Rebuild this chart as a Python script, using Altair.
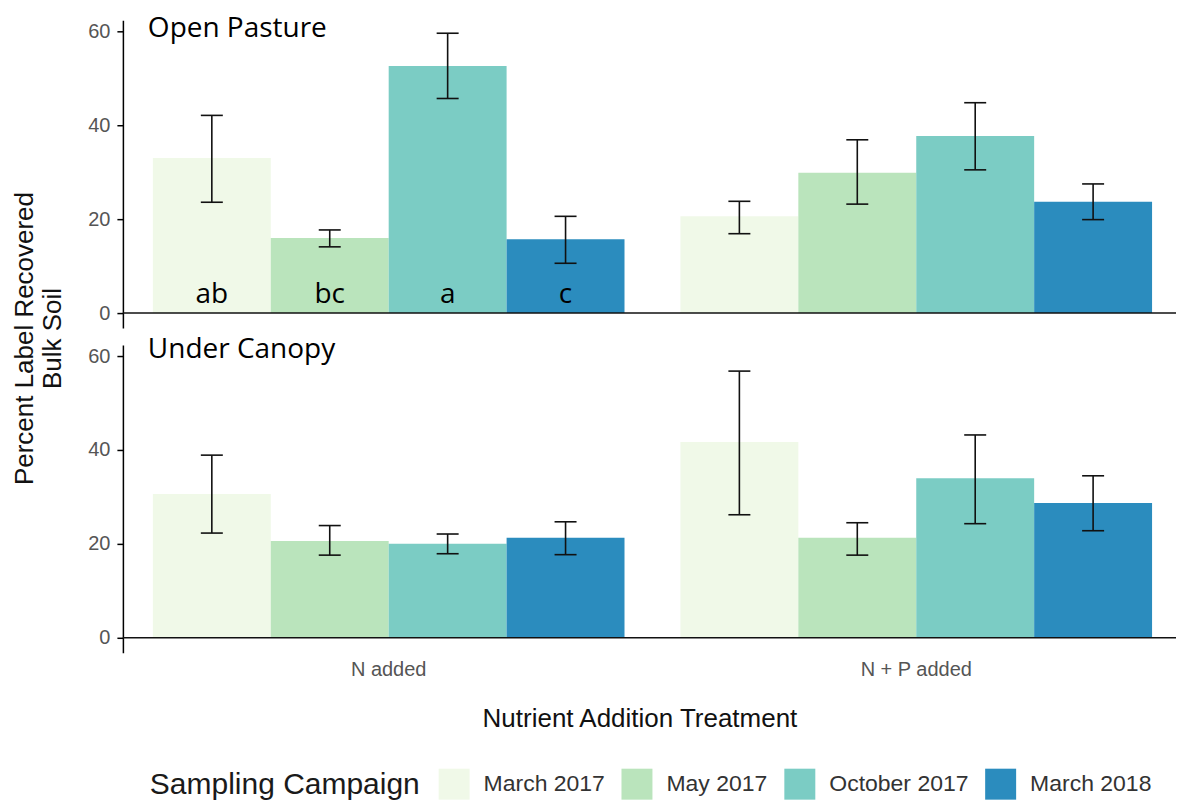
import altair as alt
import pandas as pd

treatments = ["N added", "N + P added"]
campaigns = ["March 2017", "May 2017", "October 2017", "March 2018"]
colors = ["#f0f9e8", "#bae4bc", "#7bccc4", "#2b8cbe"]

# Open Pasture
op_mean_n = [33.0, 16.0, 52.6, 15.7]
op_lo_n = [23.6, 14.1, 45.7, 10.6]
op_hi_n = [42.1, 17.7, 59.6, 20.6]
op_mean_np = [20.6, 29.9, 37.7, 23.7]
op_lo_np = [16.9, 23.2, 30.5, 19.9]
op_hi_np = [23.8, 36.9, 44.8, 27.5]
op_letters_n = ["ab", "bc", "a", "c"]

# Under Canopy
uc_mean_n = [30.6, 20.6, 20.0, 21.3]
uc_lo_n = [22.3, 17.6, 17.9, 17.7]
uc_hi_n = [38.9, 23.9, 22.1, 24.7]
uc_mean_np = [41.7, 21.3, 34.0, 28.7]
uc_lo_np = [26.2, 17.6, 24.3, 22.8]
uc_hi_np = [56.8, 24.5, 43.2, 34.5]


def make_df(mn, lon, hin, mnp, lonp, hinp):
    rows = []
    for i, c in enumerate(campaigns):
        rows.append({"treatment": treatments[0], "campaign": c, "mean": mn[i], "lo": lon[i], "hi": hin[i]})
    for i, c in enumerate(campaigns):
        rows.append({"treatment": treatments[1], "campaign": c, "mean": mnp[i], "lo": lonp[i], "hi": hinp[i]})
    return pd.DataFrame(rows)


op_df = make_df(op_mean_n, op_lo_n, op_hi_n, op_mean_np, op_lo_np, op_hi_np)
uc_df = make_df(uc_mean_n, uc_lo_n, uc_hi_n, uc_mean_np, uc_lo_np, uc_hi_np)
letters_df = pd.DataFrame({"treatment": [treatments[0]] * 4, "campaign": campaigns,
                           "letter": op_letters_n, "pos": [2.2] * 4})

FONT = "Liberation Sans"
W, H = 1054, 308

xscale = alt.Scale(domain=treatments, paddingInner=0.106, paddingOuter=0.0511, align=0.556)
yscale = alt.Scale(domain=[-3.2, 62.35], nice=False, zero=False)
color_scale = alt.Scale(domain=campaigns, range=colors)

legend = alt.Legend(
    orient="none", legendX=27, legendY=749, direction="horizontal", columns=4,
    title="Sampling Campaign", titleOrient="left", titleFontSize=30, titleFont=FONT,
    titleFontWeight="normal", titleColor="#1a1a1a", titlePadding=18, titleBaseline="middle",
    titleLimit=500, labelLimit=300,
    labelFontSize=23, labelFont=FONT, labelColor="#333333", symbolType="square",
    symbolSize=961, symbolStrokeWidth=0, symbolOpacity=1, labelOffset=14, columnPadding=16,
)


def panel(df, name, show_x, show_title, label_y, letters=None):
    if show_x:
        xaxis = alt.Axis(title="Nutrient Addition Treatment", labelAngle=0, domain=False, ticks=False,
                         labelFontSize=20, labelFont=FONT, labelColor="#555555", labelPadding=7,
                         titleFontSize=26, titleFont=FONT, titleFontWeight="normal", titleColor="#111111",
                         titlePadding=26, titleX=517, titleAlign="center")
    else:
        xaxis = None
    common = dict(values=[0, 20, 40, 60], labelFontSize=20, labelFont=FONT, labelColor="#555555",
                  labelPadding=7, tickSize=6, tickColor="black", domainColor="black", domainWidth=1.5,
                  tickWidth=1.5, grid=False)
    if show_title:
        yaxis = alt.Axis(title=["Percent Label Recovered", "Bulk Soil"],
                         titleX=-111, titleY=318, titleAlign="center", titleBaseline="top", titleAngle=270,
                         titleFontSize=26, titleFont=FONT, titleFontWeight="normal", titleColor="#111111",
                         **common)
    else:
        yaxis = alt.Axis(title=None, **common)

    x_enc = alt.X("treatment:N", sort=treatments, scale=xscale, axis=xaxis)
    xo_enc = alt.XOffset("campaign:N", sort=campaigns, scale=alt.Scale(domain=campaigns, paddingInner=0, paddingOuter=0))

    base = alt.Chart(df).encode(x=x_enc, xOffset=xo_enc)
    bars = base.mark_bar(opacity=1).encode(
        y=alt.Y("mean:Q", scale=yscale, axis=yaxis),
        color=alt.Color("campaign:N", sort=campaigns, scale=color_scale, legend=legend),
    )
    whisk = base.mark_rule(color="#111111", strokeWidth=1.6, opacity=1).encode(y="lo:Q", y2="hi:Q")
    cap_lo = base.mark_tick(orient="horizontal", size=22, thickness=1.6, color="#111111", opacity=1).encode(y="lo:Q")
    cap_hi = base.mark_tick(orient="horizontal", size=22, thickness=1.6, color="#111111", opacity=1).encode(y="hi:Q")
    zero = alt.Chart(pd.DataFrame({"z": [0]})).mark_rule(color="#111111", strokeWidth=1.6).encode(y=alt.datum(0))
    lab = alt.Chart(pd.DataFrame({"t": [name]})).mark_text(
        align="left", baseline="alphabetic", font="Open Sans", fontSize=28, color="black"
    ).encode(x=alt.value(25), y=alt.value(label_y), text="t:N")
    layers = [bars, whisk, cap_lo, cap_hi, zero, lab]
    if letters is not None:
        let = alt.Chart(letters).mark_text(
            align="center", baseline="alphabetic", font="Open Sans", fontSize=28, color="black"
        ).encode(x=x_enc, xOffset=xo_enc, y=alt.Y("pos:Q", scale=yscale), text="letter:N")
        layers.append(let)
    return alt.layer(*layers).properties(width=W, height=H)


top = panel(op_df, "Open Pasture", False, True, 17, letters_df)
bottom = panel(uc_df, "Under Canopy", True, False, 13)

chart = alt.vconcat(top, bottom, spacing=17, bounds="flush").properties(
    padding={"left": 12, "top": 15, "right": 0, "bottom": 0},
    background="white",
).configure_view(stroke=None).configure_axis(grid=False)

chart.save("out.html", embed_options={"renderer": "svg", "actions": False})
